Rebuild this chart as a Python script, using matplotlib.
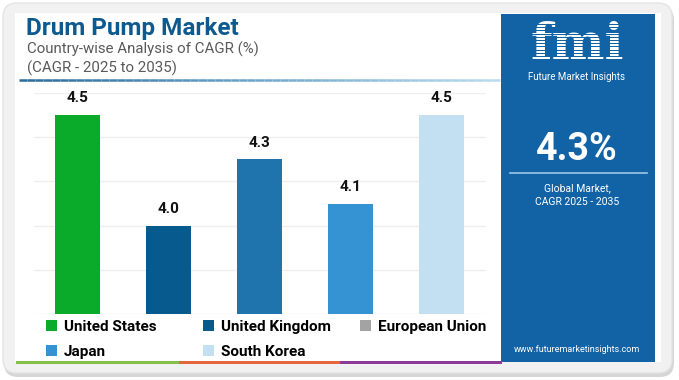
import matplotlib
matplotlib.use("Agg")
import matplotlib.pyplot as plt
import numpy as np
from matplotlib.patches import FancyBboxPatch, Rectangle, Patch
from matplotlib.collections import LineCollection

# data
countries = ["United States", "United Kingdom", "European Union", "Japan", "South Korea"]
cagr = [4.5, 4.0, 4.3, 4.1, 4.5]
bar_colors = ["#0aaa2b", "#065a8e", "#1f74ae", "#3593d3", "#c3e0f2"]
legend_colors = ["#0aaa2b", "#065a8e", "#a3a3a3", "#3593d3", "#c3e0f2"]
title = "Drum Pump Market"
subtitle = ["Country-wise Analysis of CAGR (%)", "(CAGR - 2025 to 2035)"]
global_cagr = "4.3%"
global_note = "Global Market,\nCAGR 2025 - 2035"
site = "www.futuremarketinsights.com"

W, H = 679, 380
FONT = ["Roboto", "DejaVu Sans"]
PANEL = "#1263a6"

fig = plt.figure(figsize=(W / 100, H / 100), dpi=100)
fig.patch.set_facecolor("white")


def fx(x):
    return x / W


def fy(y):
    return 1 - y / H


def box(x0, y0, x1, y1, **kw):
    # rectangle in pixel coords (top-left origin)
    r = Rectangle((fx(x0), fy(y1)), fx(x1 - x0), (y1 - y0) / H,
                  transform=fig.transFigure, **kw)
    fig.add_artist(r)
    return r


def rbox(x0, y0, x1, y1, rad, **kw):
    r = FancyBboxPatch((fx(x0), fy(y1)), fx(x1 - x0), (y1 - y0) / H,
                       boxstyle="round,pad=0,rounding_size=%f" % (rad / W),
                       transform=fig.transFigure, mutation_aspect=W / H, **kw)
    fig.add_artist(r)
    return r


# card with shadow
rbox(4, 6, 674, 377, 14, facecolor="#d6d6d6", edgecolor="none", zorder=0)
rbox(3, 3, 672, 373, 14, facecolor="#f1f1f1", edgecolor="#e4e4e4", lw=1, zorder=0.5)
box(15, 13, 661, 362, facecolor="white", edgecolor="none", zorder=0.6)

# right panel
box(501, 14, 655, 362, facecolor=PANEL, edgecolor="none", zorder=0.7)

# bottom colour strip
for x0, x1, c in [(16, 179, "#86c04a"), (179, 340, "#e5653d"), (340, 502, "#8b3a98")]:
    box(x0, 360.5, x1, 363.5, facecolor=c, edgecolor="none", zorder=1)

# gradient line under the title
xs = np.linspace(19, 500, 60)
segs = [[(fx(xs[i]), fy(79.5)), (fx(xs[i + 1]), fy(79.5))] for i in range(len(xs) - 1)]
cmap = matplotlib.colors.LinearSegmentedColormap.from_list("g", ["#2a6a9a", "#6fa6cc", "#b8dbee"])
lc = LineCollection(segs, colors=cmap(np.linspace(0, 1, len(segs))), linewidths=1.8,
                    transform=fig.transFigure, zorder=1)
fig.add_artist(lc)

# titles
fig.text(fx(26), fy(28), title, fontsize=17.5, fontweight="bold", color="#0e5a8e",
         family=FONT, va="center", ha="left")
fig.text(fx(27), fy(49), subtitle[0], fontsize=10.8, color="#5a5a5a",
         family=FONT, va="center", ha="left")
fig.text(fx(27), fy(68), subtitle[1], fontsize=10.8, color="#5a5a5a",
         family=FONT, va="center", ha="left")

# bar chart
ax = fig.add_axes([fx(34), fy(314), fx(486 - 34), (314 - 93) / H])
ax.set_zorder(2)
ax.set_facecolor("none")
x = np.arange(len(countries))
bars = ax.bar(x, cagr, width=0.5, color=bar_colors, zorder=2)
ax.set_ylim(3.6, 4.6)
ax.set_xlim(-0.48, 4.49)
ax.set_yticks(np.arange(3.6, 4.61, 0.2))
ax.yaxis.grid(True, color="#efefef", lw=1, zorder=0)
ax.set_axisbelow(True)
ax.tick_params(left=False, bottom=False, labelleft=False, labelbottom=False)
for s in ax.spines.values():
    s.set_visible(False)
ax.bar_label(bars, labels=["%.1f" % v for v in cagr], padding=7, fontsize=11,
             fontweight="bold", color="#111111", family=FONT)

# legend, one per column
cols = [[0, 3], [1, 4], [2]]
col_x = [46, 203, 360]
for ci, idx in enumerate(cols):
    handles = [Patch(facecolor=legend_colors[i], edgecolor="none") for i in idx]
    labels = [countries[i] for i in idx]
    leg = fig.legend(handles, labels, loc="upper left",
                     bbox_to_anchor=(fx(col_x[ci]), fy(320)), frameon=False,
                     handlelength=0.7, handleheight=0.7, handletextpad=0.45,
                     labelspacing=0.7, borderaxespad=0, borderpad=0,
                     prop={"family": FONT, "weight": "bold", "size": 11})
    leg.set_zorder(3)

# right panel content
fig.text(fx(577), fy(59), "fmi", fontsize=36, fontweight="bold", color="white",
         family=["DejaVu Serif"], ha="center", va="baseline", zorder=3)
for yy in np.arange(24, 60, 3.2):
    box(518, yy, 637, yy + 1.0, facecolor=PANEL, edgecolor="none", zorder=4)
fig.text(fx(577), fy(77), "Future Market Insights", fontsize=7, color="white",
         family=FONT, ha="center", va="center", zorder=5)
fig.text(fx(577), fy(149), global_cagr, fontsize=27, fontweight="bold", color="white",
         family=FONT, ha="center", va="center")
fig.add_artist(plt.Line2D([fx(510), fx(647)], [fy(173), fy(173)], color="#9cc6e6",
                          lw=1.2, transform=fig.transFigure))
fig.text(fx(577), fy(195), global_note, fontsize=7.5, color="white", family=FONT,
         ha="center", va="center", linespacing=1.5)
fig.text(fx(577), fy(349), site, fontsize=6.5, color="white", family=FONT,
         ha="center", va="center")

fig.savefig("out.png", dpi=100)
